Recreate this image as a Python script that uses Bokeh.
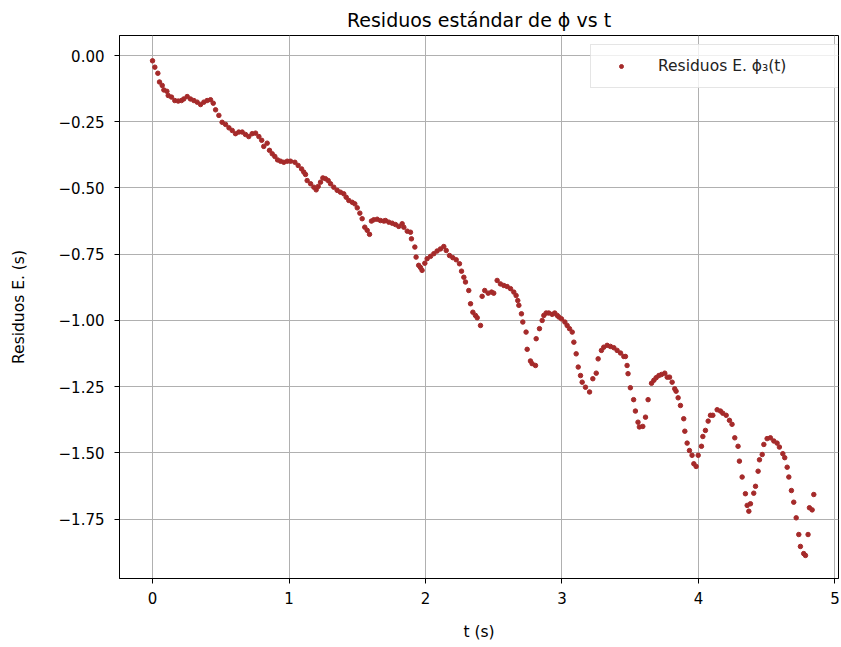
from bokeh.plotting import figure
from bokeh.embed import file_html
from bokeh.resources import INLINE
from bokeh.models import FixedTicker, CustomJSTickFormatter, ColumnDataSource, Legend, LegendItem, Range1d

# data (t in s, residual)
t = [0.0, 0.017, 0.039, 0.051, 0.071, 0.083, 0.105, 0.115, 0.139, 0.163, 0.188, 0.212, 0.229, 0.254,
     0.278, 0.303, 0.327, 0.352, 0.376, 0.40, 0.425, 0.445, 0.462, 0.486, 0.51, 0.535, 0.56, 0.584,
     0.608, 0.632, 0.657, 0.681, 0.705, 0.73, 0.755, 0.779, 0.80, 0.815, 0.84, 0.857, 0.877, 0.896,
     0.916, 0.938, 0.962, 0.987, 1.011, 1.043, 1.067, 1.092, 1.108, 1.121, 1.133, 1.158, 1.182, 1.199,
     1.214, 1.231, 1.248, 1.267, 1.287, 1.304, 1.328, 1.353, 1.377, 1.401, 1.419, 1.438, 1.463, 1.482,
     1.50, 1.519, 1.536, 1.555, 1.573, 1.59, 1.604, 1.621, 1.646, 1.67, 1.695, 1.707, 1.731, 1.756,
     1.78, 1.804, 1.829, 1.841, 1.866, 1.89, 1.897, 1.922, 1.931, 1.95, 1.963, 1.975, 1.995, 2.012,
     2.037, 2.061, 2.085, 2.11, 2.134, 2.152, 2.176, 2.20, 2.225, 2.249, 2.264, 2.281, 2.293, 2.317,
     2.33, 2.347, 2.366, 2.379, 2.403, 2.415, 2.434, 2.459, 2.484, 2.50, 2.525, 2.549, 2.574, 2.598,
     2.623, 2.647, 2.664, 2.676, 2.684, 2.703, 2.713, 2.737, 2.745, 2.769, 2.781, 2.806, 2.811, 2.835,
     2.855, 2.867, 2.884, 2.903, 2.928, 2.947, 2.965, 2.977, 2.996, 3.021, 3.038, 3.055, 3.075, 3.087,
     3.104, 3.119, 3.136, 3.148, 3.172, 3.202, 3.226, 3.251, 3.265, 3.289, 3.306, 3.331, 3.355, 3.38,
     3.404, 3.429, 3.453, 3.465, 3.477, 3.484, 3.501, 3.525, 3.538, 3.557, 3.567, 3.592, 3.612, 3.631,
     3.656, 3.673, 3.69, 3.71, 3.729, 3.753, 3.771, 3.788, 3.807, 3.826, 3.836, 3.851, 3.868, 3.892,
     3.90, 3.917, 3.934, 3.953, 3.966, 3.983, 3.998, 4.022, 4.032, 4.051, 4.071, 4.088, 4.105, 4.137,
     4.161, 4.178, 4.203, 4.227, 4.246, 4.266, 4.29, 4.30, 4.32, 4.344, 4.357, 4.369, 4.381, 4.405,
     4.418, 4.437, 4.447, 4.467, 4.479, 4.503, 4.527, 4.552, 4.576, 4.593, 4.618, 4.632, 4.65, 4.662,
     4.681, 4.698, 4.716, 4.735, 4.747, 4.771, 4.784, 4.803, 4.813, 4.833, 4.845]
res = [-0.02, -0.044, -0.067, -0.10, -0.113, -0.13, -0.135, -0.151, -0.157, -0.17, -0.172, -0.17, -0.164, -0.155,
       -0.164, -0.17, -0.176, -0.185, -0.176, -0.17, -0.167, -0.18, -0.205, -0.226, -0.252, -0.26, -0.273, -0.283,
       -0.295, -0.289, -0.289, -0.298, -0.306, -0.295, -0.293, -0.306, -0.32, -0.343, -0.331, -0.358, -0.371, -0.381,
       -0.394, -0.399, -0.403, -0.399, -0.399, -0.403, -0.415, -0.428, -0.44, -0.449, -0.472, -0.484, -0.497, -0.507,
       -0.494, -0.478, -0.462, -0.465, -0.472, -0.484, -0.497, -0.509, -0.516, -0.522, -0.535, -0.547, -0.554, -0.56,
       -0.575, -0.595, -0.616, -0.648, -0.66, -0.675, -0.625, -0.62, -0.618, -0.623, -0.625, -0.623, -0.629, -0.633,
       -0.638, -0.645, -0.635, -0.648, -0.663, -0.667, -0.692, -0.723, -0.761, -0.792, -0.80, -0.811, -0.784, -0.767,
       -0.758, -0.748, -0.738, -0.73, -0.721, -0.736, -0.755, -0.763, -0.771, -0.786, -0.814, -0.837, -0.855, -0.887,
       -0.937, -0.969, -0.981, -0.99, -1.019, -0.909, -0.887, -0.897, -0.893, -0.897, -0.849, -0.862, -0.868, -0.872,
       -0.88, -0.893, -0.906, -0.925, -0.943, -0.975, -1.006, -1.044, -1.109, -1.153, -1.163, -1.17, -1.069, -1.031,
       -1.00, -0.981, -0.972, -0.972, -0.977, -0.972, -0.981, -0.987, -0.994, -1.006, -1.019, -1.031, -1.044, -1.082,
       -1.126, -1.176, -1.208, -1.233, -1.252, -1.27, -1.22, -1.199, -1.145, -1.113, -1.101, -1.094, -1.098, -1.103,
       -1.113, -1.123, -1.136, -1.136, -1.17, -1.201, -1.254, -1.299, -1.342, -1.384, -1.402, -1.40, -1.365, -1.299,
       -1.237, -1.226, -1.216, -1.208, -1.204, -1.199, -1.214, -1.214, -1.233, -1.258, -1.267, -1.292, -1.321, -1.371,
       -1.418, -1.463, -1.491, -1.509, -1.541, -1.551, -1.509, -1.475, -1.438, -1.415, -1.38, -1.358, -1.358, -1.337,
       -1.342, -1.35, -1.358, -1.377, -1.392, -1.443, -1.475, -1.531, -1.591, -1.654, -1.698, -1.72, -1.692, -1.652,
       -1.626, -1.569, -1.526, -1.506, -1.468, -1.446, -1.443, -1.455, -1.463, -1.478, -1.503, -1.518, -1.554, -1.591,
       -1.642, -1.686, -1.745, -1.808, -1.853, -1.88, -1.887, -1.808, -1.707, -1.715, -1.657]

x_ticks = [0, 1, 2, 3, 4, 5]
y_ticks = [0.0, -0.25, -0.5, -0.75, -1.0, -1.25, -1.5, -1.75]

FONT = "DejaVu Sans"

p = figure(width=841, height=647, output_backend="svg", toolbar_location=None,
           x_range=Range1d(-0.242, 5.026), y_range=Range1d(-1.974, 0.0755),
           min_border_left=119, min_border_right=3, min_border_top=35, min_border_bottom=69)

p.title.text = "Residuos estándar de ϕ vs t"
p.title.align = "center"
p.title.text_font = FONT
p.title.text_font_size = "19px"
p.title.text_font_style = "normal"
p.title.text_color = "#000000"
p.title.offset = 0
p.title.standoff = 10

src = ColumnDataSource(dict(t=t, res=res))
r = p.scatter("t", "res", source=src, size=4.5, color="#a52a2a", line_color="#a52a2a")

p.xaxis.ticker = FixedTicker(ticks=x_ticks)
p.yaxis.ticker = FixedTicker(ticks=y_ticks)
p.yaxis.formatter = CustomJSTickFormatter(code="return tick.toFixed(2).replace('-', '\u2212');")
p.xaxis.formatter = CustomJSTickFormatter(code="return tick.toFixed(0);")

for ax in (p.xaxis[0], p.yaxis[0]):
    ax.axis_line_color = "black"
    ax.major_tick_line_color = "black"
    ax.major_tick_in = 0
    ax.major_tick_out = 5
    ax.minor_tick_line_color = None
    ax.major_label_text_font = FONT
    ax.major_label_text_font_size = "15px"
    ax.major_label_text_color = "black"
    ax.axis_label_text_font = FONT
    ax.axis_label_text_font_size = "15.5px"
    ax.axis_label_text_font_style = "normal"
    ax.axis_label_text_color = "black"

p.xaxis.axis_label = "t (s)"
p.yaxis.axis_label = "Residuos E. (s)"
p.xaxis.major_label_standoff = 8
p.yaxis.major_label_standoff = 10
p.xaxis.axis_label_standoff = 16
p.yaxis.axis_label_standoff = 28

p.xgrid.ticker = FixedTicker(ticks=x_ticks)
p.ygrid.ticker = FixedTicker(ticks=y_ticks)
p.grid.grid_line_color = "#b0b0b0"
p.grid.grid_line_width = 1

p.outline_line_color = "black"
p.outline_line_width = 1
p.background_fill_color = "white"
p.border_fill_color = "white"

legend = Legend(items=[LegendItem(label="Residuos E. ϕ₃(t)", renderers=[r])],
                location=(471, 490))
legend.label_text_font = FONT
legend.label_text_font_size = "15.5px"
legend.label_text_color = "#222222"
legend.glyph_width = 36
legend.glyph_height = 10
legend.label_standoff = 19
legend.label_width = 168
legend.padding = 12
legend.margin = 0
legend.border_line_color = "#cccccc"
legend.border_line_width = 1
legend.background_fill_alpha = 0.8
p.add_layout(legend)

open("out.html", "w").write(file_html(p, INLINE))
